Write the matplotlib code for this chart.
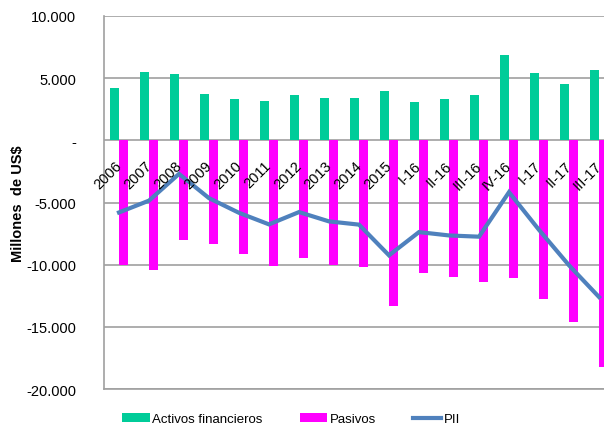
import matplotlib
matplotlib.use("Agg")
import matplotlib.pyplot as plt
import numpy as np
from matplotlib.ticker import FuncFormatter

categories = ["2006", "2007", "2008", "2009", "2010", "2011", "2012", "2013", "2014",
              "2015", "I-16", "II-16", "III-16", "IV-16", "I-17", "II-17", "III-17"]
activos = [4200, 5500, 5300, 3750, 3350, 3200, 3650, 3400, 3400,
           3970, 3080, 3330, 3620, 6900, 5380, 4520, 5620]
pasivos = [-10000, -10400, -8050, -8300, -9150, -10100, -9500, -10050, -10200,
           -13300, -10650, -11000, -11400, -11100, -12750, -14600, -18250]
pii = [-5800, -4850, -2700, -4650, -5830, -6760, -5770, -6520, -6780,
       -9250, -7380, -7650, -7750, -4170, -7200, -10050, -12600]

green = "#00CC99"
magenta = "#FF00FF"
blue = "#4F81BD"
grid_c = "#A0A0A0"

fig = plt.figure(figsize=(6.04, 4.31), dpi=100)
ax = fig.add_axes([104/604, 41/431, 510/604, 373/431])

x = np.arange(len(categories))
w = 0.3
ax.bar(x - w/2, activos, width=w, color=green, zorder=2, label="Activos financieros")
ax.bar(x + w/2, pasivos, width=w, color=magenta, zorder=2, label="Pasivos")
ax.plot(x, pii, color=blue, lw=3, zorder=3, label="PII", solid_joinstyle="miter")

ax.set_xlim(-0.5, len(categories) - 0.5)
ax.set_ylim(-20000, 10000)
ax.set_yticks(np.arange(-20000, 10001, 5000))

def fmt(v, pos):
    if abs(v) < 1e-6:
        return "-"
    s = f"{abs(int(v)):,}".replace(",", ".")
    return ("-" if v < 0 else "") + s

ax.yaxis.set_major_formatter(FuncFormatter(fmt))
ax.tick_params(axis="y", length=0, pad=20, labelsize=10.5)
for t in ax.get_yticklabels():
    t.set_family(["Liberation Sans", "DejaVu Sans"])
ax.set_xticks([])
ax.grid(axis="y", color=grid_c, lw=1.2, zorder=0)
ax.set_axisbelow(True)
for s in ["top", "right"]:
    ax.spines[s].set_visible(False)
for s in ["left", "bottom"]:
    ax.spines[s].set_color(grid_c)
    ax.spines[s].set_linewidth(1.2)

for i, lab in enumerate(categories):
    ax.annotate(lab, xy=(i, 0), xycoords="data", xytext=(-3.5, -13),
                textcoords="offset points", rotation=45, ha="right", va="top",
                rotation_mode="anchor", fontsize=10.5,
                family=["Liberation Sans", "DejaVu Sans"], zorder=4)

fig.text(0.029, 0.527, "Millones  de US$", rotation=90, ha="center", va="center",
         fontsize=10.5, fontweight="bold", family=["Liberation Sans", "DejaVu Sans"])

handles, labels = ax.get_legend_handles_labels()
order = [1, 2, 0]
handles = [handles[i] for i in order]
labels = [labels[i] for i in order]
fig.legend(handles, labels, ncol=3, loc="center", bbox_to_anchor=(291/604, 1 - 420/431),
           frameon=False, handlelength=2.1, handleheight=0.6, columnspacing=2.8,
           handletextpad=0.2,
           prop={"family": ["Liberation Sans", "DejaVu Sans"], "size": 9.5})

fig.savefig("out.png", dpi=100)
